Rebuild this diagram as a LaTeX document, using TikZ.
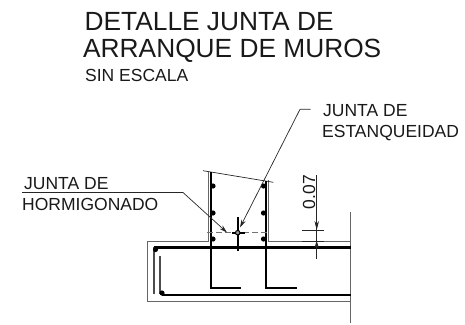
\documentclass[tikz,border=0pt]{standalone}
\usepackage{fontspec}
\setmainfont{Liberation Sans}
\usetikzlibrary{arrows.meta}
\tikzset{
  txt/.style={inner sep=0pt,anchor=base west,align=left,text=black!90},
  big/.style={txt,font=\fontsize{26.3}{26}\selectfont},
  mid/.style={txt,font=\fontsize{17.5}{18}\selectfont},
  outline/.style={draw=black!60,line width=.9pt},
  rebar/.style={draw=black,line width=2.1pt},
  rebarthick/.style={draw=black,line width=2.8pt},
  rebarthin/.style={draw=black!70,line width=1.8pt},
  thin line/.style={draw=black!85,line width=.7pt},
  tipline/.style={thin line,-{Stealth[length=8pt,width=4.5pt]}},
  dot/.style={circle,fill=black,inner sep=0pt,minimum size=5.2pt},
}
\begin{document}
\begin{tikzpicture}[x=1pt,y=-1pt]
\useasboundingbox (0,0) rectangle (465,324);
% titles
\node[big] (t1) at (84.5,30) {DETALLE JUNTA DE};
\node[big] (t2) at (83,57.3) {ARRANQUE DE MUROS};
\node[mid] (t3) at (85,81.7) {SIN ESCALA};
\node[mid] (a1) at (323,116) {JUNTA DE};
\node[mid] (a2) at (322,137.7) {ESTANQUEIDAD};
\node[mid] (b1) at (24,189) {JUNTA DE};
\node[mid] (b2) at (22,210.7) {HORMIGONADO};
\node[mid,rotate=90] (d) at (315,209.5) {0.07};
% concrete outline
\draw[outline] (350.7,241) -- (268,241) -- (268,180);
\draw[outline] (208,172) -- (208,241) -- (147.5,241) -- (147.5,301.7) -- (350.7,301.7);
\draw[thin line] (203,170.7) -- (273.3,182.3);
\draw[outline] (350.7,212) -- (350.7,323);
% rebars
\draw[rebarthick] (350.7,247.3) -- (154,247.3);
\draw[rebarthin] (154,247.3) -- (154,294);
\draw[rebarthin] (160,256) -- (160,294);
\draw[rebar] (162,295) -- (350.7,295);
\draw[rebar] (210.7,172) -- (210.7,288) -- (241,288);
\draw[rebar] (266,181) -- (266,288) -- (297,288);
\node[dot] (p1) at (155.5,249.5) {};
\node[dot] (p2) at (162,293) {};
\foreach \n/\x/\y in {l1/213/186,l2/213/213,l3/213/239,r1/263.5/186,r2/263.5/213,r3/263.5/239}
  \node[dot] (\n) at (\x,\y) {};
% joint
\draw[draw=black!55,dash pattern=on 6pt off 3pt,line width=1.1pt] (207,232.7) -- (268,232.7);
\draw[draw=black,line width=1.7pt] (237.7,217) -- (237.7,251);
\draw[draw=black,line width=2.2pt] (232,232.7) -- (245,232.7);
\node[circle,draw=black,fill=black!40,inner sep=0pt,minimum size=4.5pt,line width=1pt] (w) at (237.7,232.7) {};
% leaders
\coordinate (la) at (310.7,109.3);
\coordinate (lb) at (300,109.3);
\coordinate (lc) at (240,227.5);
\draw[tipline] (la) -- (lb) -- (lc);
\coordinate (ma) at (22,192.5);
\coordinate (mb) at (183,192.5);
\coordinate (mc) at (227,232.5);
\draw[tipline] (ma) -- (mb) -- (mc);
% dimension
\coordinate (da) at (316.7,175);
\coordinate (db) at (316.7,230);
\coordinate (dc) at (316.7,259);
\coordinate (dd) at (316.7,241);
\draw[thin line] (da) -- (dc);
\draw[thin line] (302,230) -- (324,230);
\draw[thin line] (302,241) -- (324,241);
\draw[thin line,-{Stealth[length=9pt,width=4.5pt]}] (316.7,218) -- (db);
\draw[thin line,-{Stealth[length=7pt,width=4.5pt]}] (316.7,249) -- (dd);
\end{tikzpicture}
\end{document}
